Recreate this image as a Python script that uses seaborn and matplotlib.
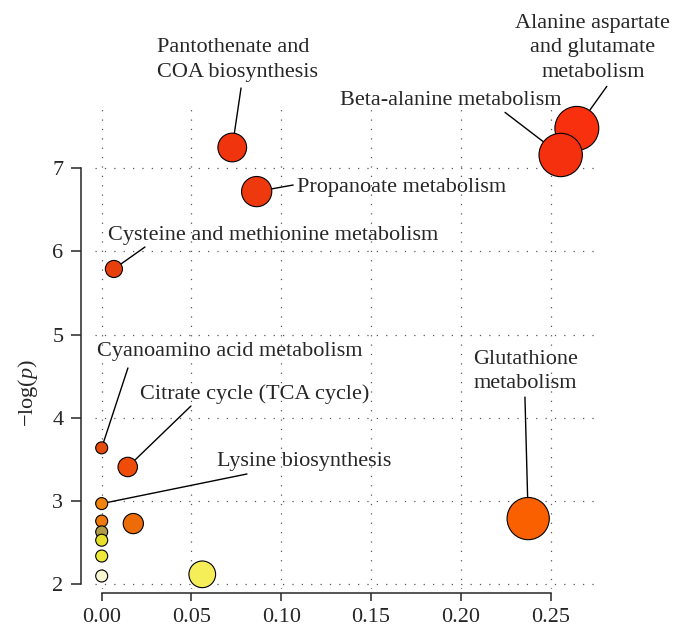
import numpy as np
import pandas as pd
import matplotlib.pyplot as plt
import seaborn as sns

# -----------------------------
# Data: pathway impact vs -log(p)
# -----------------------------
pathways = [
    "Alanine aspartate and glutamate metabolism",
    "Beta-alanine metabolism",
    "Pantothenate and COA biosynthesis",
    "Propanoate metabolism",
    "Cysteine and methionine metabolism",
    "Cyanoamino acid metabolism",
    "Citrate cycle (TCA cycle)",
    "Lysine biosynthesis",
    "Glutathione metabolism",
    "other 1",
    "other 2",
    "other 3",
    "other 4",
    "other 5",
    "other 6",
    "other 7",
]
impact = [0.2646, 0.2556, 0.0727, 0.0863, 0.0068, 0.0, 0.0145, 0.0,
          0.2375, 0.0, 0.0176, 0.0, 0.0, 0.0, 0.056, 0.0]
neg_log_p = [7.48, 7.16, 7.25, 6.72, 5.79, 3.64, 3.41, 2.97,
             2.79, 2.76, 2.73, 2.63, 2.53, 2.34, 2.12, 2.10]

colors = ["#F8300E", "#F5300E", "#F0340E", "#EE380E", "#E8400C", "#E54C0A",
          "#EE4C08", "#F0820E", "#FA6000", "#EE7A0C", "#EE6C08", "#B09C48",
          "#E8E028", "#EEEA38", "#F6EE58", "#F6F6D2"]

df = pd.DataFrame({"pathway": pathways, "impact": impact, "logp": neg_log_p})

# bubble radius grows with impact (px), converted to marker area in pt^2
radius_px = 6 + 31 * np.sqrt(df["impact"].to_numpy())
area = (2 * radius_px * 0.72) ** 2

# -----------------------------
# Style
# -----------------------------
sns.set_style("ticks")
plt.rcParams["font.family"] = ["Liberation Serif", "DejaVu Serif"]
plt.rcParams["mathtext.fontset"] = "custom"
plt.rcParams["mathtext.rm"] = "Liberation Serif"
plt.rcParams["mathtext.it"] = "Liberation Serif:italic"

fig = plt.figure(figsize=(6.82, 6.37), dpi=100)
ax = fig.add_axes([0.1393, 0.0754, 0.736, 0.7551])

sns.scatterplot(data=df, x="impact", y="logp", hue="pathway", palette=colors,
                s=area, edgecolor="black", linewidth=0.8, legend=False,
                zorder=3, clip_on=False, ax=ax)

ax.set_xlim(-0.00373, 0.2758)
ax.set_ylim(1.944, 7.725)
ax.set_xticks([0.0, 0.05, 0.10, 0.15, 0.20, 0.25])
ax.set_xticklabels(["0.00", "0.05", "0.10", "0.15", "0.20", "0.25"])
ax.set_yticks([2, 3, 4, 5, 6, 7])
ax.grid(True, color="0.35", linewidth=0.9, linestyle=(0, (1, 6.5)))
ax.set_axisbelow(True)

for side in ["top", "right"]:
    ax.spines[side].set_visible(False)
ax.spines["left"].set_position(("outward", 10.3))
ax.spines["bottom"].set_position(("outward", 3))
ax.spines["left"].set_bounds(2, 7)
ax.spines["bottom"].set_bounds(0, 0.25)
for side in ["left", "bottom"]:
    ax.spines[side].set_linewidth(1.1)
ax.tick_params(axis="y", length=7, width=1.1, pad=5.5, labelsize=16)
ax.tick_params(axis="x", length=5.8, width=1.1, pad=5, labelsize=16)
ax.set_xlabel("")
ax.set_ylabel("")
fig.text(28.5 / 682, 1 - 393 / 637, "\u2212log($p$)", rotation=90,
         ha="center", va="center", fontsize=16)

# -----------------------------
# Labels with leader lines
# -----------------------------
labels = [
    # text, text x, text y, ha, line start x, line start y, point index
    ("Pantothenate and\nCOA biosynthesis", 0.0308, 8.30, "left", 0.0776, 7.965, 2),
    ("Alanine aspartate\nand glutamate\nmetabolism", 0.2735, 8.45, "center", 0.2813, 7.985, 0),
    ("Beta-alanine metabolism", 0.2563, 7.81, "right", 0.2246, 7.672, 1),
    ("Propanoate metabolism", 0.1087, 6.77, "left", 0.1066, 6.799, 3),
    ("Cysteine and methionine metabolism", 0.0035, 6.19, "left", 0.0241, 6.054, 4),
    ("Cyanoamino acid metabolism", -0.0026, 4.80, "left", 0.0146, 4.60, 5),
    ("Citrate cycle (TCA cycle)", 0.0213, 4.29, "left", 0.0497, 4.143, 6),
    ("Lysine biosynthesis", 0.0642, 3.475, "left", 0.0809, 3.326, 7),
    ("Glutathione\nmetabolism", 0.236, 4.56, "center", 0.2357, 4.251, 8),
]
for text, tx, ty, ha, lx, ly, i in labels:
    ax.text(tx, ty, text, ha=ha, va="center", fontsize=16,
            multialignment=ha, linespacing=1.4, clip_on=False)
    ax.annotate("", xy=(impact[i], neg_log_p[i]), xytext=(lx, ly),
                arrowprops=dict(arrowstyle="-", color="black", lw=1.0,
                                shrinkA=0, shrinkB=0),
                annotation_clip=False, zorder=2)

plt.savefig("out.png", dpi=100)
plt.close()
